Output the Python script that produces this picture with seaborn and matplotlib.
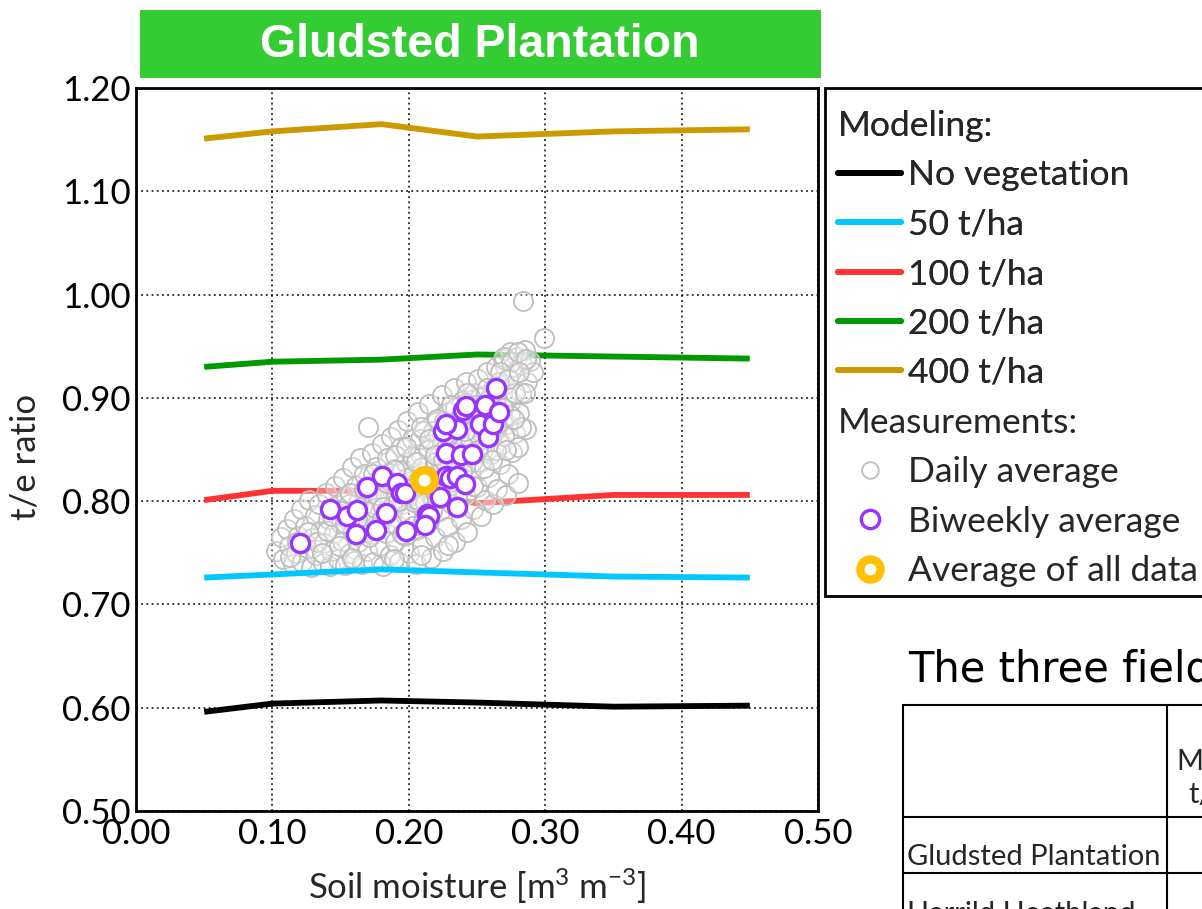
import matplotlib
matplotlib.use("Agg")
import matplotlib.pyplot as plt
from matplotlib.lines import Line2D
from matplotlib.patches import Rectangle
import pandas as pd
import seaborn as sns

# ---------------- data ----------------
model_sm = [0.05, 0.10, 0.18, 0.25, 0.35, 0.45]
model_names = ["No vegetation", "50 t/ha", "100 t/ha", "200 t/ha", "400 t/ha"]
te_no_veg = [0.596, 0.604, 0.607, 0.605, 0.601, 0.602]
te_50 = [0.726, 0.729, 0.734, 0.731, 0.727, 0.726]
te_100 = [0.801, 0.810, 0.810, 0.798, 0.806, 0.806]
te_200 = [0.930, 0.935, 0.937, 0.942, 0.940, 0.938]
te_400 = [1.151, 1.158, 1.165, 1.153, 1.158, 1.160]

# daily averages as (soil moisture, t/e ratio)
daily_points = [
    (0.103, 0.752), (0.106, 0.765), (0.108, 0.744), (0.111, 0.773), (0.112, 0.757),
    (0.115, 0.739), (0.116, 0.783), (0.117, 0.750), (0.119, 0.766), (0.121, 0.792),
    (0.122, 0.741), (0.124, 0.776), (0.125, 0.755), (0.127, 0.801), (0.128, 0.736),
    (0.129, 0.764), (0.131, 0.787), (0.132, 0.748), (0.134, 0.797), (0.135, 0.771),
    (0.137, 0.740), (0.138, 0.759), (0.139, 0.808), (0.141, 0.783), (0.142, 0.737),
    (0.143, 0.752), (0.145, 0.769), (0.146, 0.815), (0.147, 0.796), (0.148, 0.744),
    (0.150, 0.778), (0.151, 0.761), (0.152, 0.822), (0.153, 0.738), (0.154, 0.805),
    (0.155, 0.788), (0.157, 0.750), (0.158, 0.833), (0.159, 0.770), (0.160, 0.742),
    (0.161, 0.815), (0.162, 0.797), (0.163, 0.760), (0.164, 0.842), (0.165, 0.781),
    (0.166, 0.739), (0.167, 0.826), (0.168, 0.806), (0.169, 0.752), (0.170, 0.872),
    (0.171, 0.790), (0.172, 0.768), (0.173, 0.847), (0.174, 0.741), (0.175, 0.815),
    (0.176, 0.833), (0.177, 0.779), (0.178, 0.757), (0.179, 0.800), (0.180, 0.855),
    (0.181, 0.737), (0.182, 0.823), (0.183, 0.769), (0.184, 0.842), (0.185, 0.789),
    (0.186, 0.748), (0.187, 0.862), (0.188, 0.810), (0.189, 0.831), (0.190, 0.760),
    (0.191, 0.777), (0.192, 0.869), (0.193, 0.741), (0.194, 0.852), (0.195, 0.797),
    (0.196, 0.818), (0.197, 0.766), (0.198, 0.838), (0.199, 0.878), (0.200, 0.750),
    (0.201, 0.785), (0.202, 0.860), (0.203, 0.806), (0.204, 0.827), (0.205, 0.739),
    (0.206, 0.772), (0.207, 0.886), (0.208, 0.846), (0.209, 0.795), (0.210, 0.757),
    (0.211, 0.868), (0.212, 0.816), (0.213, 0.835), (0.214, 0.780), (0.215, 0.894),
    (0.216, 0.745), (0.217, 0.855), (0.218, 0.803), (0.219, 0.765), (0.220, 0.877),
    (0.221, 0.825), (0.222, 0.845), (0.223, 0.790), (0.224, 0.903), (0.225, 0.752),
    (0.226, 0.866), (0.227, 0.811), (0.228, 0.775), (0.229, 0.886), (0.230, 0.834),
    (0.231, 0.855), (0.232, 0.797), (0.233, 0.910), (0.234, 0.760), (0.235, 0.876),
    (0.236, 0.820), (0.237, 0.843), (0.238, 0.783), (0.239, 0.897), (0.240, 0.864),
    (0.241, 0.806), (0.242, 0.915), (0.243, 0.770), (0.244, 0.885), (0.245, 0.829),
    (0.246, 0.851), (0.247, 0.792), (0.248, 0.905), (0.249, 0.872), (0.250, 0.814),
    (0.251, 0.918), (0.252, 0.838), (0.253, 0.786), (0.254, 0.893), (0.255, 0.860),
    (0.256, 0.801), (0.257, 0.925), (0.258, 0.880), (0.259, 0.823), (0.260, 0.846),
    (0.261, 0.908), (0.262, 0.797), (0.263, 0.868), (0.264, 0.930), (0.265, 0.812),
    (0.266, 0.890), (0.267, 0.836), (0.268, 0.855), (0.269, 0.938), (0.270, 0.912),
    (0.271, 0.806), (0.272, 0.875), (0.273, 0.826), (0.274, 0.944), (0.275, 0.897),
    (0.276, 0.848), (0.277, 0.922), (0.278, 0.866), (0.279, 0.940), (0.280, 0.818),
    (0.281, 0.885), (0.282, 0.905), (0.283, 0.932), (0.284, 0.994), (0.285, 0.946),
    (0.286, 0.870), (0.287, 0.915), (0.289, 0.936), (0.291, 0.925), (0.299, 0.958),
    (0.118, 0.760), (0.126, 0.770), (0.133, 0.760), (0.140, 0.771), (0.144, 0.786),
    (0.149, 0.757), (0.153, 0.779), (0.156, 0.797), (0.160, 0.786), (0.163, 0.773),
    (0.166, 0.795), (0.170, 0.780), (0.172, 0.808), (0.175, 0.793), (0.178, 0.820),
    (0.180, 0.783), (0.183, 0.806), (0.186, 0.827), (0.188, 0.795), (0.190, 0.845),
    (0.193, 0.812), (0.195, 0.830), (0.197, 0.787), (0.199, 0.822), (0.202, 0.843),
    (0.204, 0.799), (0.206, 0.815), (0.208, 0.860), (0.210, 0.833), (0.212, 0.798),
    (0.214, 0.850), (0.216, 0.820), (0.218, 0.868), (0.220, 0.838), (0.222, 0.812),
    (0.224, 0.857), (0.226, 0.878), (0.228, 0.833), (0.230, 0.865), (0.232, 0.848),
    (0.234, 0.890), (0.236, 0.835), (0.238, 0.870), (0.240, 0.852), (0.242, 0.895),
    (0.244, 0.862), (0.246, 0.838), (0.248, 0.883), (0.250, 0.866), (0.252, 0.901),
    (0.254, 0.848), (0.256, 0.878), (0.258, 0.898), (0.260, 0.862), (0.262, 0.887),
    (0.264, 0.850), (0.266, 0.915), (0.268, 0.879), (0.270, 0.863), (0.272, 0.902),
    (0.274, 0.883), (0.276, 0.930), (0.278, 0.905), (0.280, 0.852), (0.282, 0.872),
    (0.270, 0.940), (0.275, 0.935), (0.280, 0.944), (0.286, 0.938), (0.113, 0.746),
    (0.136, 0.750), (0.158, 0.745), (0.189, 0.744), (0.209, 0.748), (0.229, 0.758),
    (0.150, 0.790), (0.157, 0.808), (0.162, 0.783), (0.167, 0.812), (0.171, 0.765),
    (0.174, 0.826), (0.177, 0.806), (0.181, 0.794), (0.184, 0.818), (0.187, 0.779),
    (0.190, 0.830), (0.192, 0.800), (0.195, 0.768), (0.198, 0.852), (0.200, 0.812),
    (0.203, 0.776), (0.205, 0.838), (0.207, 0.801), (0.209, 0.872), (0.211, 0.782),
    (0.213, 0.824), (0.215, 0.860), (0.217, 0.790), (0.219, 0.845), (0.221, 0.880),
    (0.223, 0.803), (0.225, 0.840), (0.227, 0.865), (0.229, 0.818), (0.231, 0.893),
    (0.233, 0.842), (0.235, 0.805), (0.237, 0.880), (0.239, 0.828), (0.241, 0.868),
    (0.243, 0.905), (0.245, 0.846), (0.247, 0.815), (0.249, 0.893), (0.251, 0.850),
    (0.253, 0.880), (0.255, 0.832), (0.257, 0.910), (0.259, 0.866), (0.261, 0.840),
    (0.263, 0.898), (0.265, 0.875), (0.267, 0.925), (0.269, 0.890), (0.271, 0.850),
    (0.273, 0.918), (0.277, 0.880), (0.281, 0.925), (0.285, 0.905),
]
daily_sm = [p[0] for p in daily_points]
daily_te = [p[1] for p in daily_points]

biweekly_sm = [0.120, 0.142, 0.155, 0.162, 0.161, 0.169, 0.180, 0.176, 0.183,
               0.191, 0.194, 0.197, 0.198, 0.213, 0.215, 0.212, 0.223, 0.227,
               0.230, 0.235, 0.241, 0.235, 0.227, 0.238, 0.246, 0.225, 0.235,
               0.227, 0.240, 0.242, 0.252, 0.256, 0.258, 0.262, 0.266, 0.264]
biweekly_te = [0.759, 0.792, 0.786, 0.791, 0.768, 0.814, 0.824, 0.772, 0.789,
               0.818, 0.808, 0.808, 0.771, 0.788, 0.786, 0.777, 0.804, 0.824,
               0.822, 0.824, 0.817, 0.794, 0.847, 0.845, 0.846, 0.868, 0.870,
               0.875, 0.888, 0.892, 0.875, 0.893, 0.862, 0.875, 0.886, 0.910]

overall_sm = [0.211]
overall_te = [0.820]

x_ticks = [0.0, 0.1, 0.2, 0.3, 0.4, 0.5]
y_ticks = [0.5, 0.6, 0.7, 0.8, 0.9, 1.0, 1.1, 1.2]

model_colors = {
    "No vegetation": "#000000",
    "50 t/ha": "#00C8FF",
    "100 t/ha": "#FF3333",
    "200 t/ha": "#009900",
    "400 t/ha": "#CC9900",
}
model_z = {"No vegetation": 2.6, "50 t/ha": 2.6, "100 t/ha": 1.5,
           "200 t/ha": 1.5, "400 t/ha": 1.5}

models = pd.DataFrame({
    "sm": model_sm * 5,
    "te": te_no_veg + te_50 + te_100 + te_200 + te_400,
    "model": [m for m in model_names for _ in model_sm],
})

# ---------------- style ----------------
sns.set_style("white")
plt.rcParams["font.family"] = ["Lato", "DejaVu Sans"]
plt.rcParams["mathtext.fontset"] = "custom"
plt.rcParams["mathtext.rm"] = "Lato"
plt.rcParams["mathtext.it"] = "Lato:italic"
plt.rcParams["mathtext.bf"] = "Lato:bold"

W, H = 1202, 909
fig = plt.figure(figsize=(W / 100, H / 100), dpi=100)
fig.patch.set_facecolor("white")


def fx(px):
    return px / W


def fy(py):
    return 1 - py / H


ax = fig.add_axes([fx(136), fy(811), fx(818) - fx(136), fy(88) - fy(811)])

for name in model_names:
    sns.lineplot(data=models[models["model"] == name], x="sm", y="te",
                 color=model_colors[name], linewidth=4.2, ax=ax,
                 legend=False, zorder=model_z[name], solid_capstyle="butt")

sns.scatterplot(x=daily_sm, y=daily_te, s=190, marker="o",
                facecolor=(1, 1, 1, 0.3), edgecolor="#BFBFBF",
                linewidth=1.3, ax=ax, zorder=2, legend=False)
sns.scatterplot(x=biweekly_sm, y=biweekly_te, s=172, marker="o",
                facecolor="white", edgecolor="#9933FF",
                linewidth=2.4, ax=ax, zorder=4, legend=False)
sns.scatterplot(x=overall_sm, y=overall_te, s=215, marker="o",
                facecolor="white", edgecolor="#FFC000",
                linewidth=6.0, ax=ax, zorder=5, legend=False)

ax.set_xlim(0, 0.5)
ax.set_ylim(0.5, 1.2)
ax.set_xticks(x_ticks)
ax.set_yticks(y_ticks)
ax.set_xticklabels([f"{v:.2f}" for v in x_ticks])
ax.set_yticklabels([f"{v:.2f}" for v in y_ticks])
ax.tick_params(axis="both", labelsize=25, length=0, colors="black")
ax.tick_params(axis="x", pad=5)
ax.tick_params(axis="y", pad=4)
ax.grid(True, color="black", linestyle=(0, (1.2, 2.2)), linewidth=1.1)
ax.set_axisbelow(True)
for sp in ax.spines.values():
    sp.set_color("black")
    sp.set_linewidth(2)

ax.set_xlabel("Soil moisture [m$^{3}$ m$^{-3}$]", fontsize=25)
ax.set_ylabel("t/e ratio", fontsize=25)
ax.xaxis.set_label_coords(0.5, -0.077)
ax.yaxis.set_label_coords(-0.138, 0.49)

# ---------------- title bar ----------------
fig.add_artist(Rectangle((fx(140), fy(78)), fx(821) - fx(140), fy(10) - fy(78),
                         transform=fig.transFigure, facecolor="#33CC33",
                         edgecolor="none"))
fig.text(fx(480), fy(45), "Gludsted Plantation", color="white",
         fontsize=33.5, fontweight="bold", ha="center", va="center",
         family=["Liberation Sans", "DejaVu Sans"])

# ---------------- legend ----------------
fig.add_artist(Rectangle((fx(825), fy(596)), fx(1215) - fx(825), fy(88) - fy(596),
                         transform=fig.transFigure, facecolor="white",
                         edgecolor="black", linewidth=2, clip_on=False))

line_handles = [Line2D([], [], color=model_colors[m], linewidth=4.2)
                for m in model_names]
leg1 = fig.legend(line_handles, model_names, title="Modeling:",
                  loc="upper left", bbox_to_anchor=(fx(838), fy(110)),
                  frameon=False, fontsize=25.5, title_fontsize=25.5,
                  alignment="left", handlelength=1.78, handletextpad=0.2,
                  labelspacing=0.49, borderpad=0, borderaxespad=0)

meas_labels = ["Daily average", "Biweekly average", "Average of all data"]
meas_handles = [
    Line2D([], [], linestyle="none", marker="o", markersize=12,
           markerfacecolor="white", markeredgecolor="#BFBFBF", markeredgewidth=1.3),
    Line2D([], [], linestyle="none", marker="o", markersize=13.2,
           markerfacecolor="white", markeredgecolor="#9933FF", markeredgewidth=2.4),
    Line2D([], [], linestyle="none", marker="o", markersize=14.5,
           markerfacecolor="white", markeredgecolor="#FFC000", markeredgewidth=6.0),
]
leg2 = fig.legend(meas_handles, meas_labels, title="Measurements:",
                  loc="upper left", bbox_to_anchor=(fx(838), fy(407)),
                  frameon=False, fontsize=25.5, title_fontsize=25.5,
                  alignment="left", handlelength=1.78, handletextpad=0.2,
                  labelspacing=0.49, borderpad=0, borderaxespad=0)
fig.add_artist(leg1)

# ---------------- table fragment ----------------
fig.text(fx(908), fy(682), "The three fields", fontsize=30,
         family=["DejaVu Sans"], ha="left", va="baseline", color="black")

table_lines = [
    ((903, 1215), (705, 705)),
    ((903, 1215), (817, 817)),
    ((903, 1215), (873, 873)),
    ((903, 903), (705, 920)),
    ((1167, 1167), (705, 920)),
]
for xs, ys in table_lines:
    fig.add_artist(Line2D([fx(xs[0]), fx(xs[1])], [fy(ys[0]), fy(ys[1])],
                          transform=fig.transFigure, color="black",
                          linewidth=1.5))

fig.text(fx(907), fy(865), "Gludsted Plantation", fontsize=21,
         ha="left", va="baseline")
fig.text(fx(907), fy(922), "Harrild Heathland", fontsize=21,
         ha="left", va="baseline")
fig.text(fx(1176), fy(770), "Mean", fontsize=21, ha="left", va="baseline")
fig.text(fx(1188), fy(803), "t/ha", fontsize=21, ha="left", va="baseline")

fig.savefig("out.png", dpi=100, facecolor="white")
